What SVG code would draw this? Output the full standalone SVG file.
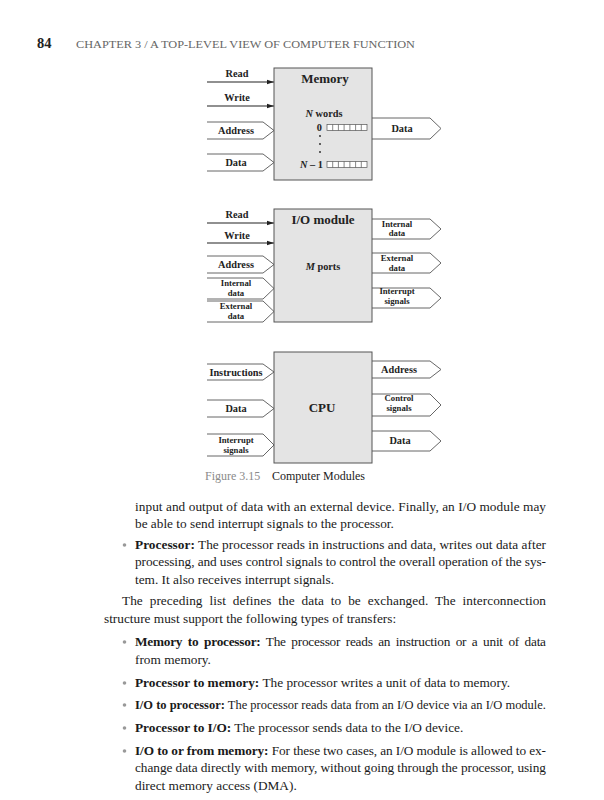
<svg xmlns="http://www.w3.org/2000/svg" width="604" height="800" viewBox="0 0 604 800">
<defs>
<marker id="ah" markerWidth="8" markerHeight="6" refX="7" refY="3" orient="auto" markerUnits="userSpaceOnUse">
<path d="M0,0.8 L7,3 L0,5.2 Z" fill="#222"/>
</marker>
<style>
.box{fill:#e4e4e4;stroke:#555;stroke-width:1}
.sig{fill:#fff;stroke:#666;stroke-width:1}
.ln{stroke:#222;stroke-width:1.2;fill:none}
.lb{font-family:"Liberation Serif",serif;font-weight:bold;font-size:10.3px;fill:#222;text-anchor:middle}
.sm{font-family:"Liberation Serif",serif;font-weight:bold;font-size:8.7px;fill:#222;text-anchor:middle}
.tt{font-family:"Liberation Serif",serif;font-weight:bold;font-size:13px;fill:#222;text-anchor:middle}
.cell{fill:#fff;stroke:#555;stroke-width:0.7}
.body{font-family:"Liberation Serif",serif;font-size:13.3px;fill:#1a1a1a}
.b{font-weight:bold}
.bul{fill:#999}
</style>
</defs>
<rect width="604" height="800" fill="#fff"/>
<g id="header">
<text x="37" y="48" font-family="Liberation Serif,serif" font-weight="bold" font-size="14.5" fill="#222">84</text>
<text x="76" y="48" font-family="Liberation Serif,serif" font-size="10.5" fill="#666" textLength="339" lengthAdjust="spacingAndGlyphs">CHAPTER 3 / A TOP-LEVEL VIEW OF COMPUTER FUNCTION</text>
</g>
<g id="connectors">
<line class="ln" x1="207" y1="82" x2="274" y2="82" marker-end="url(#ah)"/>
<line class="ln" x1="207" y1="106" x2="274" y2="106" marker-end="url(#ah)"/>
<line class="ln" x1="207" y1="223" x2="274" y2="223" marker-end="url(#ah)"/>
<line class="ln" x1="207" y1="243" x2="274" y2="243" marker-end="url(#ah)"/>
<path class="sig" d="M207,122 H263 L274,130.5 L263,139 H207"/>
<path class="sig" d="M207,154 H263 L274,162.5 L263,171 H207"/>
<path class="sig" d="M372,118 H430 L441,128.5 L430,139 H372"/>
<path class="sig" d="M207,256 H263 L274,264.5 L263,273 H207"/>
<path class="sig" d="M207,278 H263 L274,288.5 L263,299 H207"/>
<path class="sig" d="M207,301 H263 L274,311.5 L263,322 H207"/>
<path class="sig" d="M372,219 H430 L441,229 L430,239 H372"/>
<path class="sig" d="M372,253 H430 L441,263 L430,273 H372"/>
<path class="sig" d="M372,288 H430 L441,298 L430,308 H372"/>
<path class="sig" d="M207,364 H263 L274,372 L263,380 H207"/>
<path class="sig" d="M207,400 H263 L274,408.5 L263,417 H207"/>
<path class="sig" d="M207,434 H263 L274,445 L263,456 H207"/>
<path class="sig" d="M372,361 H430 L441,369.5 L430,378 H372"/>
<path class="sig" d="M372,394 H430 L441,405 L430,416 H372"/>
<path class="sig" d="M372,431 H430 L441,441 L430,451 H372"/>
</g>
<g id="memory">
<rect class="box" x="274" y="68" width="98" height="112"/>
<text class="tt" x="325" y="83">Memory</text>
<text class="lb" x="324" y="117"><tspan font-style="italic">N</tspan> words</text>
<text class="lb" x="322" y="130.5" style="text-anchor:end" font-size="9">0</text>
<g class="cell">
<rect x="327" y="124.5" width="40" height="6"/>
<path d="M332.7,124.5v6M338.4,124.5v6M344.1,124.5v6M349.9,124.5v6M355.6,124.5v6M361.3,124.5v6"/>
<rect x="327" y="161.5" width="40" height="6"/>
<path d="M332.7,161.5v6M338.4,161.5v6M344.1,161.5v6M349.9,161.5v6M355.6,161.5v6M361.3,161.5v6"/>
</g>
<circle cx="320" cy="136" r="0.9" fill="#222"/>
<circle cx="320" cy="144" r="0.9" fill="#222"/>
<circle cx="320" cy="152" r="0.9" fill="#222"/>
<text class="lb" x="323" y="167.5" style="text-anchor:end" font-size="9.5"><tspan font-style="italic">N</tspan> – 1</text>
</g>
<g id="memory-signals">
<text class="lb" x="237" y="77">Read</text>
<text class="lb" x="237" y="101">Write</text>
<text class="lb" x="236" y="134">Address</text>
<text class="lb" x="236" y="166">Data</text>
<text class="lb" x="402" y="132">Data</text>
</g>
<g id="io-module">
<rect class="box" x="274" y="209" width="98" height="113"/>
<text class="tt" x="323" y="224">I/O module</text>
<text class="lb" x="323" y="270"><tspan font-style="italic">M</tspan> ports</text>
</g>
<g id="io-signals">
<text class="lb" x="237" y="218">Read</text>
<text class="lb" x="237" y="239">Write</text>
<text class="lb" x="236" y="268">Address</text>
<text class="sm" x="236" y="286">Internal</text>
<text class="sm" x="236" y="296">data</text>
<text class="sm" x="236" y="309">External</text>
<text class="sm" x="236" y="319">data</text>
<text class="sm" x="397" y="227">Internal</text>
<text class="sm" x="397" y="236">data</text>
<text class="sm" x="397" y="261">External</text>
<text class="sm" x="397" y="270.5">data</text>
<text class="sm" x="397" y="294">Interrupt</text>
<text class="sm" x="397" y="303.5">signals</text>
</g>
<g id="cpu">
<rect class="box" x="274" y="352" width="98" height="111"/>
<text class="tt" x="322" y="412">CPU</text>
</g>
<g id="cpu-signals">
<text class="lb" x="236" y="376">Instructions</text>
<text class="lb" x="236" y="412">Data</text>
<text class="sm" x="236" y="443">Interrupt</text>
<text class="sm" x="236" y="453">signals</text>
<text class="lb" x="399" y="373">Address</text>
<text class="sm" x="399" y="401">Control</text>
<text class="sm" x="399" y="411">signals</text>
<text class="lb" x="400" y="444">Data</text>
</g>
<g id="caption">
<text x="205" y="480" font-family="Liberation Serif,serif" font-size="12" fill="#8a8a8a">Figure 3.15</text>
<text x="272" y="480" font-family="Liberation Serif,serif" font-size="12" fill="#222">Computer Modules</text>
</g>
<g id="body">
<text class="body" x="135" y="511" textLength="411" lengthAdjust="spacing">input and output of data with an external device. Finally, an I/O module may</text>
<text class="body" x="135" y="528">be able to send interrupt signals to the processor.</text>
<circle class="bul" cx="124.5" cy="545" r="1.8"/>
<text class="body" x="135" y="549" textLength="411" lengthAdjust="spacing"><tspan class="b">Processor:</tspan> The processor reads in instructions and data, writes out data after</text>
<text class="body" x="135" y="566" textLength="411" lengthAdjust="spacing">processing, and uses control signals to control the overall operation of the sys-</text>
<text class="body" x="135" y="584">tem. It also receives interrupt signals.</text>
<text class="body" x="122" y="605" textLength="424" lengthAdjust="spacing" word-spacing="3.5">The preceding list defines the data to be exchanged. The interconnection</text>
<text class="body" x="104" y="623">structure must support the following types of transfers:</text>
<circle class="bul" cx="124.5" cy="642" r="1.8"/>
<text class="body" x="135" y="646" textLength="411" lengthAdjust="spacing" word-spacing="2.5"><tspan class="b">Memory to processor:</tspan> The processor reads an instruction or a unit of data</text>
<text class="body" x="135" y="664">from memory.</text>
<circle class="bul" cx="124.5" cy="683" r="1.8"/>
<text class="body" x="135" y="687"><tspan class="b">Processor to memory:</tspan> The processor writes a unit of data to memory.</text>
<circle class="bul" cx="124.5" cy="705" r="1.8"/>
<text class="body" x="135" y="709" textLength="411" lengthAdjust="spacingAndGlyphs"><tspan class="b">I/O to processor:</tspan> The processor reads data from an I/O device via an I/O module.</text>
<circle class="bul" cx="124.5" cy="728" r="1.8"/>
<text class="body" x="135" y="732"><tspan class="b">Processor to I/O:</tspan> The processor sends data to the I/O device.</text>
<circle class="bul" cx="124.5" cy="751" r="1.8"/>
<text class="body" x="135" y="755" textLength="411" lengthAdjust="spacing"><tspan class="b">I/O to or from memory:</tspan> For these two cases, an I/O module is allowed to ex-</text>
<text class="body" x="135" y="772" textLength="411" lengthAdjust="spacing">change data directly with memory, without going through the processor, using</text>
<text class="body" x="135" y="790">direct memory access (DMA).</text>
</g>
</svg>
